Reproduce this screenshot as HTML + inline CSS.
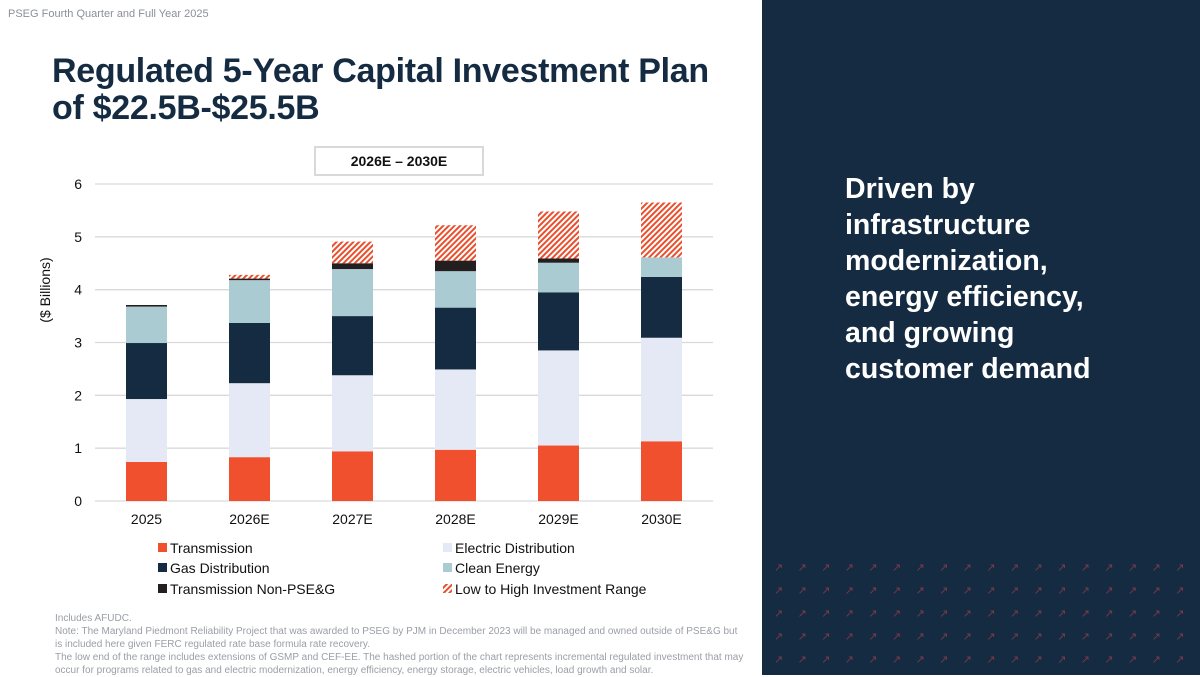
<!DOCTYPE html>
<html><head><meta charset="utf-8"><style>
body{margin:0;width:1200px;height:675px;overflow:hidden;background:#fff;font-family:"Liberation Sans",sans-serif;position:relative}
.abs{position:absolute}
</style></head><body>
<div class="abs" style="left:8px;top:8px;font-size:11px;color:#8a8f99">PSEG Fourth Quarter and Full Year 2025</div>
<div class="abs" style="left:52px;top:53px;font-size:34px;line-height:37px;font-weight:bold;color:#152b42;letter-spacing:-0.3px">Regulated 5-Year Capital Investment Plan<br>of $22.5B-$25.5B</div>
<div class="abs" style="left:314px;top:146px;width:166px;height:26px;border:2px solid #d9d9d9;text-align:center;font-size:14px;font-weight:bold;line-height:26px;color:#111">2026E – 2030E</div>
<div class="abs" style="left:-5px;top:282px;width:100px;text-align:center;transform:rotate(-90deg);font-size:14px;color:#111">($ Billions)</div>
<div class="abs" style="left:762px;top:0;width:438px;height:675px;background:#152b42"></div>
<div class="abs" style="left:845px;top:171px;font-size:28.5px;line-height:36px;font-weight:bold;color:#fff">Driven by<br>infrastructure<br>modernization,<br>energy efficiency,<br>and growing<br>customer demand</div>
<svg class="abs" style="left:762px;top:550px" width="438" height="125" id="arr"></svg>
<svg class="abs" id="chart" style="left:0;top:0" width="762" height="610">
<defs><pattern id="hatch" width="4" height="4" patternUnits="userSpaceOnUse" patternTransform="rotate(45)"><rect width="4" height="4" fill="#fff"/><rect width="2" height="4" fill="#e8502e"/></pattern></defs>
</svg>
<div class="abs" style="left:55px;top:612px;width:690px;font-size:10px;line-height:13px;color:#9a9ea6">Includes AFUDC.<br>Note: The Maryland Piedmont Reliability Project that was awarded to PSEG by PJM in December 2023 will be managed and owned outside of PSE&amp;G but is included here given FERC regulated rate base formula rate recovery.<br>The low end of the range includes extensions of GSMP and CEF-EE. The hashed portion of the chart represents incremental regulated investment that may occur for programs related to gas and electric modernization, energy efficiency, energy storage, electric vehicles, load growth and solar.</div>
<script>
const categories=["2025","2026E","2027E","2028E","2029E","2030E"];
const transmission=[0.74,0.83,0.94,0.97,1.05,1.13];
const electricDist=[1.19,1.40,1.44,1.52,1.80,1.96];
const gasDist=[1.06,1.14,1.12,1.17,1.10,1.15];
const cleanEnergy=[0.69,0.81,0.89,0.69,0.56,0.37];
const transNonPSEG=[0.03,0.03,0.11,0.20,0.08,0.00];
const rangeHigh=[0.00,0.07,0.41,0.67,0.89,1.04];
const yTicks=[0,1,2,3,4,5,6];
const NS="http://www.w3.org/2000/svg";
const svg=document.getElementById('chart');
const x0=95,x1=713,y0=501,yTop=184,ymax=6;
const yS=v=>y0-(v/ymax)*(y0-yTop);
const band=(x1-x0)/categories.length;
const xC=i=>x0+band*(i+0.5);
const bw=41;
function mk(t,a){const e=document.createElementNS(NS,t);for(const k in a)e.setAttribute(k,a[k]);svg.appendChild(e);return e;}
yTicks.forEach(v=>{
 const l=mk('line',{x1:x0,x2:x1,y1:yS(v),y2:yS(v),stroke:'#d9d9d9','stroke-width':1.3});
 
 
 const t=mk('text',{x:82,y:yS(v)+5,'text-anchor':'end','font-size':14,fill:'#111'});t.textContent=v;
 
 
});
const series=[[transmission,'#f0502e','transmission'],[electricDist,'#e4e9f5','electric-distribution'],[gasDist,'#152b42','gas-distribution'],[cleanEnergy,'#aacbd1','clean-energy'],[transNonPSEG,'#231f20','transmission-non-pseg'],[rangeHigh,'url(#hatch)','investment-range']];
categories.forEach((c,i)=>{
 let acc=0;
 series.forEach(([arr,col,nm])=>{
  const v=arr[i];if(v<=0)return;
  const r=mk('rect',{x:xC(i)-bw/2,y:yS(acc+v),width:bw,height:yS(acc)-yS(acc+v),fill:col});
  
  
  acc+=v;
 });
 const t=mk('text',{x:xC(i),y:524,'text-anchor':'middle','font-size':14,fill:'#111'});t.textContent=c;
 
 
});
const legend=[["Transmission",'#f0502e',158,553],["Electric Distribution",'#e4e9f5',443,553],["Gas Distribution",'#152b42',158,573],["Clean Energy",'#aacbd1',443,573],["Transmission Non-PSE&G",'#231f20',158,594],["Low to High Investment Range",'url(#hatch)',443,594]];
legend.forEach(([n,col,lx,ly])=>{
 const g=mk('g',{});
 
 
 const r=document.createElementNS(NS,'rect');r.setAttribute('x',lx);r.setAttribute('y',ly-10);r.setAttribute('width',9);r.setAttribute('height',9);r.setAttribute('fill',col);g.appendChild(r);
 const t=document.createElementNS(NS,'text');t.setAttribute('x',lx+12);t.setAttribute('y',ly);t.setAttribute('font-size',14);t.setAttribute('fill','#111');t.textContent=n;g.appendChild(t);
});
const arr=document.getElementById('arr');
for(let r=0;r<5;r++)for(let c=0;c<18;c++){
 const t=document.createElementNS(NS,'text');t.setAttribute('x',12+c*23.6);t.setAttribute('y',21+r*23);t.setAttribute('font-size',11);t.setAttribute('fill','#7a3a48');t.textContent='↗';arr.appendChild(t);
}
</script>
</body></html>
